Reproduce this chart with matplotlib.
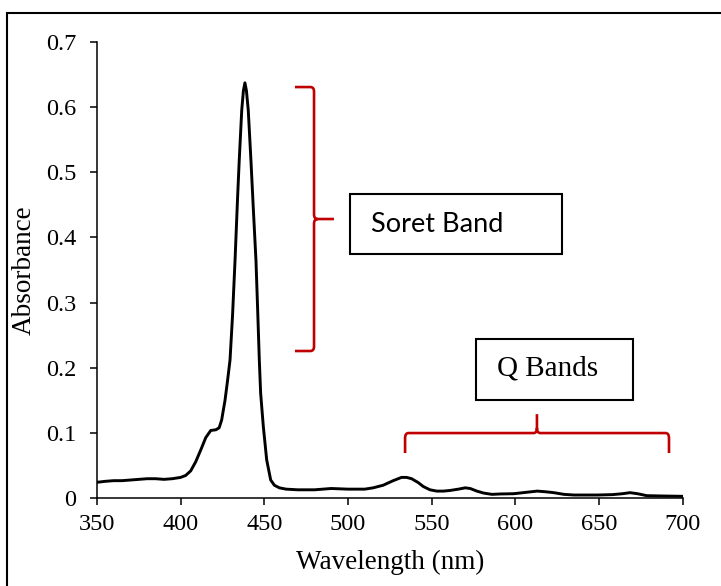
import matplotlib
matplotlib.use("Agg")
import matplotlib.pyplot as plt
from matplotlib.patches import Rectangle, PathPatch
from matplotlib.path import Path

# ---- data ----
wavelength = [350, 355, 360, 365, 370, 375, 380, 385, 390, 395, 400, 403, 406, 409,
              412, 415, 418, 421, 423, 424.5, 426.5, 428, 429.5, 431, 432.5, 434,
              435, 436.5, 437.5, 438.4, 439.3, 440.4, 442, 443.5, 445, 446, 447,
              447.8, 449.4, 451.4, 453.8, 456, 459, 463, 470, 480, 490, 500, 510,
              515, 521, 527, 532, 535, 538, 542, 545, 549, 553, 557, 561, 566, 570,
              573, 577, 581, 586, 591, 599, 606, 613, 618, 623, 629, 635, 649, 658,
              664, 668.5, 673, 678.5, 688, 700]
absorbance = [0.0245, 0.026, 0.027, 0.027, 0.028, 0.029, 0.030, 0.030, 0.029, 0.030,
              0.032, 0.035, 0.042, 0.056, 0.074, 0.093, 0.104, 0.105, 0.108, 0.120,
              0.150, 0.180, 0.212, 0.280, 0.365, 0.460, 0.518, 0.595, 0.625, 0.637,
              0.625, 0.595, 0.518, 0.440, 0.365, 0.290, 0.212, 0.161, 0.110, 0.059,
              0.028, 0.020, 0.016, 0.014, 0.013, 0.013, 0.015, 0.014, 0.014, 0.016,
              0.020, 0.027, 0.032, 0.032, 0.030, 0.024, 0.018, 0.013, 0.011, 0.011,
              0.012, 0.014, 0.016, 0.015, 0.011, 0.008, 0.006, 0.0066, 0.007, 0.009,
              0.011, 0.010, 0.0086, 0.006, 0.005, 0.005, 0.0056, 0.007, 0.0086,
              0.007, 0.004, 0.0035, 0.003]

x_ticks = [350, 400, 450, 500, 550, 600, 650, 700]
x_tick_labels = ["350", "400", "450", "500", "550", "600", "650", "700"]
y_ticks = [0, 0.1, 0.2, 0.3, 0.4, 0.5, 0.6, 0.7]
y_tick_labels = ["0", "0.1", "0.2", "0.3", "0.4", "0.5", "0.6", "0.7"]

x_label = "Wavelength (nm)"
y_label = "Absorbance"
soret_text = "Soret Band"
q_text = "Q Bands"

# brace extents (data units)
soret_range = (0.2258, 0.6305)   # absorbance span
soret_x = 479.7
q_range = (534.1, 691.8)          # wavelength span
q_y = 0.100

serif = ["Liberation Serif", "DejaVu Serif"]
red = "#C00000"

fig = plt.figure(figsize=(7.21, 5.86), dpi=100)
ax = fig.add_axes([0.1345, 0.1497, 0.8124, 0.7791])

ax.plot(wavelength, absorbance, color="black", lw=2.1, solid_joinstyle="round")

ax.set_xlim(350, 700)
ax.set_ylim(0, 0.7)
ax.set_xticks(x_ticks)
ax.set_xticklabels(x_tick_labels, fontfamily=serif, fontsize=17.5)
ax.set_yticks(y_ticks)
ax.set_yticklabels(y_tick_labels, fontfamily=serif, fontsize=17.5)
ax.tick_params(axis="y", direction="out", length=5, width=1.1, pad=10)
ax.tick_params(axis="x", direction="out", length=5, width=1.1, pad=6)
for s in ["top", "right"]:
    ax.spines[s].set_visible(False)
for s in ["left", "bottom"]:
    ax.spines[s].set_linewidth(1.1)
ax.set_xlabel(x_label, fontfamily=serif, fontsize=19.5)
ax.set_ylabel(y_label, fontfamily=serif, fontsize=19.5)
ax.xaxis.set_label_coords(0.5, -0.112)
ax.yaxis.set_label_coords(-0.103, 0.5)

# ---- Soret brace (vertical, pointing right) ----
rx, ry = 2.2, 0.007
y0, y1 = soret_range
ym = (y0 + y1) / 2
xl = soret_x
tip = 468.3
pt = 491.6
verts = [(tip, y1), (xl - rx, y1), (xl, y1), (xl, y1 - ry),
         (xl, ym + ry), (xl, ym), (xl + rx, ym),
         (pt, ym),
         (xl + rx, ym), (xl, ym), (xl, ym - ry),
         (xl, y0 + ry), (xl, y0), (xl - rx, y0), (tip, y0)]
codes = [Path.MOVETO, Path.LINETO, Path.CURVE3, Path.CURVE3,
         Path.LINETO, Path.CURVE3, Path.CURVE3,
         Path.LINETO,
         Path.MOVETO, Path.CURVE3, Path.CURVE3,
         Path.LINETO, Path.CURVE3, Path.CURVE3, Path.LINETO]
ax.add_patch(PathPatch(Path(verts, codes), fill=False, edgecolor=red, lw=1.9,
                       clip_on=False, capstyle="butt", joinstyle="round"))

# ---- Q brace (horizontal, pointing up) ----
qx0, qx1 = q_range
qm = 612.9
yend = 0.0694
ytip = 0.129
rxq, ryq = 2.0, 0.008
verts = [(qx0, yend), (qx0, q_y - ryq), (qx0, q_y), (qx0 + rxq, q_y),
         (qm - rxq, q_y), (qm, q_y), (qm, q_y + ryq),
         (qm, ytip),
         (qm, q_y + ryq), (qm, q_y), (qm + rxq, q_y),
         (qx1 - rxq, q_y), (qx1, q_y), (qx1, q_y - ryq), (qx1, yend)]
ax.add_patch(PathPatch(Path(verts, codes), fill=False, edgecolor=red, lw=1.9,
                       clip_on=False, capstyle="butt", joinstyle="round"))

# ---- text boxes (figure pixel coordinates, origin bottom-left) ----
H = 586
def box(x0, ytop, x1, ybot):
    fig.patches.append(Rectangle((x0, H - ybot), x1 - x0, ybot - ytop,
                                 transform=None, fill=False, edgecolor="black",
                                 lw=1.5, figure=fig))

box(350, 194, 562, 254)
fig.text(371 / 721, 1 - 224 / H, soret_text, fontfamily=["Lato", "DejaVu Sans"],
         fontsize=19.5, ha="left", va="center")
box(476, 339, 633, 400)
fig.text(497 / 721, 1 - 369 / H, q_text, fontfamily=serif,
         fontsize=21, ha="left", va="center")

# outer frame
fig.patches.append(Rectangle((7, -20), 760, H - 13 + 20, transform=None,
                             fill=False, edgecolor="black", lw=1.5, figure=fig))

fig.savefig("out.png", dpi=100)
